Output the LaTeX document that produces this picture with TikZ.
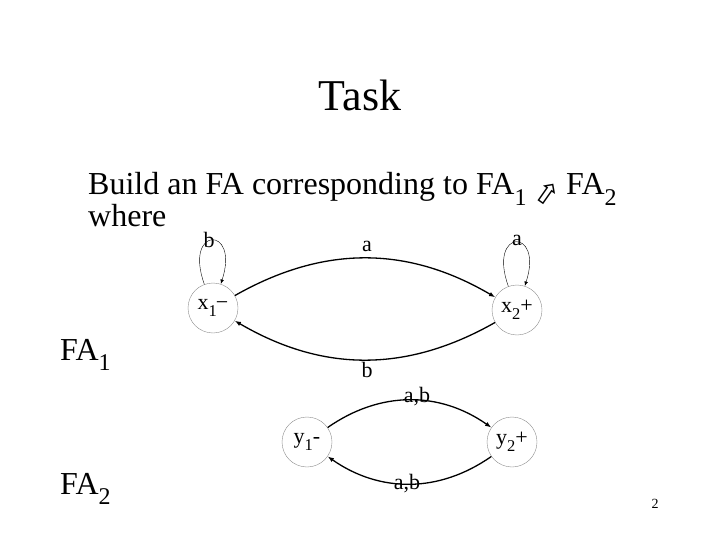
\documentclass[tikz,border=0pt]{standalone}
\usepackage{fontspec}
\setmainfont{Liberation Serif}
\newfontfamily\symfont{DejaVu Sans}
\usetikzlibrary{arrows.meta,positioning}
\newcommand\dn[1]{\raisebox{-0.7ex}{\scalebox{0.75}{#1}}}

\begin{document}
\begin{tikzpicture}[x=1pt,y=-1pt,
state/.style={draw=black!45,circle,minimum size=50pt,inner sep=0pt,
font=\fontsize{22}{24}\selectfont},
trans/.style={-{Latex[length=2.2mm,width=1.6mm]},line width=1.3pt},
selfloop/.style={-{Latex[length=1.6mm,width=1.2mm]},thin,out=110,in=72,
min distance=62pt},
lbl/.style={font=\fontsize{22}{24}\selectfont},
big/.style={font=\fontsize{32}{36}\selectfont,inner sep=0pt}]
\useasboundingbox (0,0) rectangle (720,540);
\node[font=\fontsize{44}{48}\selectfont] (title) at (360,95) {Task};
\node[big,anchor=base west] (task) at (88,195)
{Build an FA corresponding to FA\dn{1}\kern4pt{\symfont\fontsize{30}{32}\selectfont\rotatebox{-35}{⇧}}\kern2pt FA\dn{2}};
\node[big,anchor=base west] (where) at (88,226) {where};
\node[big,anchor=base west] (fa1) at (60,360) {FA\dn{1}};
\node[big,anchor=base west] (fa2) at (60,494) {FA\dn{2}};
% first automaton
\node[state] (x1) at (213,308) {x\dn{1}\kern-1pt−};
\node[state] (x2) at (517,310) {x\dn{2}+};
\draw[trans] (x1) to[bend left=30] (x2);
\draw[trans] (x2) to[bend left=30] (x1);
\draw[selfloop] (x1) to (x1);
\draw[selfloop] (x2) to (x2);
\node[lbl] (b1) at (209,240) {b};
\node[lbl] (a1) at (517,240) {a};
\node[lbl] (a2) at (367,246) {a};
\node[lbl] (b2) at (367,370) {b};
% second automaton
\node[state] (y1) at (307,442) {y\dn{1}-};
\node[state] (y2) at (512,442) {y\dn{2}+};
\draw[trans] (y1) to[bend left=35] (y2);
\draw[trans] (y2) to[bend left=35] (y1);
\node[lbl] (ab1) at (417,397) {a,b};
\node[lbl] (ab2) at (407,484) {a,b};
\node[font=\fontsize{14}{16}\selectfont] (page) at (655,504) {2};
\end{tikzpicture}
\end{document}
